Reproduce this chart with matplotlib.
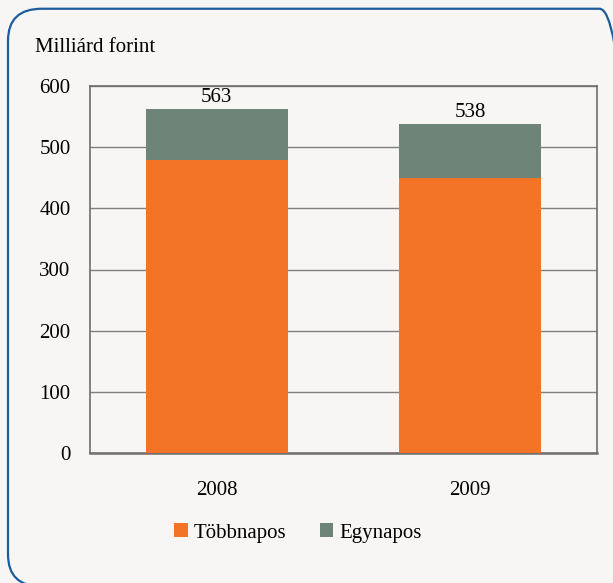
import matplotlib.pyplot as plt
from matplotlib.patches import FancyBboxPatch

years = ['2008', '2009']
tobbnapos = [479, 450]
egynapos = [84, 88]
totals = [563, 538]

plt.rcParams['font.family'] = ['Liberation Serif', 'DejaVu Serif']

bg = '#f7f6f4'
orange = '#f37327'
grey = '#6f8478'

fig = plt.figure(figsize=(6.13, 5.83), dpi=100, facecolor=bg)

# rounded frame around the whole chart
frame = FancyBboxPatch((8 / 613, -0.006), 1.02, 0.985 + 0.006,
                       boxstyle='round,pad=0,rounding_size=0.055',
                       transform=fig.transFigure, facecolor='none',
                       edgecolor='#1d5c9a', linewidth=1.6, clip_on=False)
fig.patches.append(frame)

ax = fig.add_axes([90 / 613, 130 / 583, 507 / 613, 367 / 583])
ax.set_facecolor(bg)

x = range(len(years))
ax.bar(x, tobbnapos, width=0.56, color=orange, label='Többnapos', zorder=3)
ax.bar(x, egynapos, width=0.56, bottom=tobbnapos, color=grey, label='Egynapos', zorder=3)

for i, t in enumerate(totals):
    ax.text(i, t + 3, str(t), ha='center', va='bottom', fontsize=15)

ax.set_xlim(-0.5, 1.5)
ax.set_ylim(0, 600)
ax.set_yticks(range(0, 601, 100))
ax.set_xticks(list(x))
ax.set_xticklabels(years)
ax.tick_params(length=0, labelsize=15, colors='black')
ax.tick_params(axis='y', pad=14)
ax.tick_params(axis='x', pad=20)
ax.yaxis.grid(True, color='#808080', linewidth=1, zorder=0)
for s in ax.spines.values():
    s.set_color('#6e6e6e')
    s.set_linewidth(1.2)
ax.spines['bottom'].set_linewidth(1.8)

fig.text(35 / 613, 1 - 47 / 583, 'Milliárd forint', fontsize=15, va='center', ha='left')

fig.legend(loc='center', bbox_to_anchor=(298 / 613, 1 - 533 / 583), ncol=2,
           frameon=False, fontsize=15, handlelength=0.65, handleheight=0.65,
           handletextpad=0.3, columnspacing=1.6)

fig.savefig('out.png', dpi=100, facecolor=bg)
